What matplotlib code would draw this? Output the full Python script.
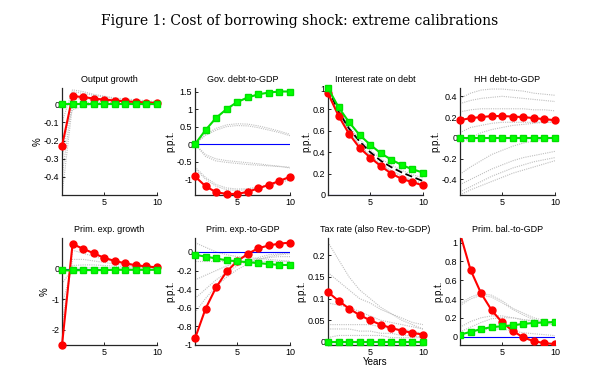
import numpy as np
import matplotlib.pyplot as plt

# horizon (years)
years = list(range(1, 11))

# panel titles / y labels
titles = ['Output growth', 'Gov. debt-to-GDP', 'Interest rate on debt', 'HH debt-to-GDP',
          'Prim. exp. growth', 'Prim. exp.-to-GDP', 'Tax rate (also Rev.-to-GDP)', 'Prim. bal.-to-GDP']
ylabels = ['%', 'p.p.t.', 'p.p.t.', 'p.p.t.', '%', 'p.p.t.', 'p.p.t.', 'p.p.t.']

# red calibration (circles)
red_output = [-0.23, 0.045, 0.04, 0.032, 0.026, 0.021, 0.016, 0.013, 0.01, 0.008]
red_govdebt = [-0.92, -1.2, -1.37, -1.42, -1.42, -1.36, -1.26, -1.16, -1.05, -0.93]
red_rate = [0.95, 0.74, 0.57, 0.44, 0.35, 0.27, 0.2, 0.15, 0.12, 0.09]
red_hhdebt = [0.17, 0.19, 0.2, 0.21, 0.21, 0.205, 0.2, 0.19, 0.18, 0.17]
red_expgr = [-2.5, 0.8, 0.65, 0.5, 0.35, 0.25, 0.17, 0.11, 0.07, 0.04]
red_expgdp = [-0.93, -0.61, -0.38, -0.21, -0.1, -0.02, 0.04, 0.07, 0.09, 0.1]
red_tax = [0.115, 0.095, 0.077, 0.062, 0.05, 0.04, 0.032, 0.026, 0.021, 0.017]
red_primbal = [1.1, 0.71, 0.46, 0.28, 0.15, 0.06, -0.01, -0.05, -0.07, -0.08]

# green calibration (squares)
green_output = [0.0] * 10
green_govdebt = [0.0, 0.4, 0.75, 1.0, 1.2, 1.33, 1.42, 1.47, 1.5, 1.5]
green_rate = [1.0, 0.82, 0.68, 0.56, 0.47, 0.39, 0.33, 0.28, 0.24, 0.21]
green_hhdebt = [0.0] * 10
green_expgr = [-0.06, -0.06, -0.05, -0.05, -0.05, -0.04, -0.04, -0.04, -0.04, -0.04]
green_expgdp = [-0.03, -0.05, -0.07, -0.09, -0.1, -0.11, -0.12, -0.13, -0.14, -0.14]
green_tax = [0.0] * 10
green_primbal = [0.02, 0.05, 0.08, 0.1, 0.11, 0.12, 0.135, 0.145, 0.15, 0.155]

# baseline (black dashed, interest rate only)
base_rate = [1.0, 0.78, 0.62, 0.5, 0.4, 0.32, 0.26, 0.21, 0.17, 0.13]

# gray dotted lines: other calibrations
gray_output = [
    [-0.5, 0.0, 0.01, 0.01, 0.01, 0.01, 0.01, 0.01, 0.01, 0.01],
    [-0.4, 0.03, 0.03, 0.025, 0.02, 0.02, 0.015, 0.012, 0.01, 0.01],
    [-0.3, 0.07, 0.06, 0.05, 0.04, 0.03, 0.025, 0.02, 0.015, 0.012],
    [-0.2, -0.03, -0.01, 0.0, 0.0, 0.0, 0.0, 0.0, 0.0, 0.0],
    [-0.1, 0.08, 0.07, 0.055, 0.045, 0.035, 0.03, 0.025, 0.02, 0.015],
]
gray_govdebt = [
    [0.0, 0.28, 0.45, 0.55, 0.58, 0.57, 0.52, 0.45, 0.37, 0.28],
    [0.0, 0.25, 0.4, 0.5, 0.53, 0.52, 0.47, 0.4, 0.33, 0.24],
    [0.0, -0.35, -0.48, -0.52, -0.55, -0.58, -0.6, -0.62, -0.64, -0.66],
    [0.0, -0.3, -0.42, -0.47, -0.5, -0.53, -0.56, -0.6, -0.63, -0.68],
    [-0.7, -1.0, -1.2, -1.3, -1.32, -1.3, -1.25, -1.18, -1.1, -1.02],
    [-0.65, -0.95, -1.15, -1.25, -1.28, -1.27, -1.22, -1.15, -1.07, -0.98],
]
gray_rate = [
    [0.98, 0.77, 0.6, 0.47, 0.37, 0.29, 0.23, 0.18, 0.14, 0.11],
    [0.99, 0.8, 0.64, 0.52, 0.42, 0.34, 0.28, 0.23, 0.19, 0.16],
    [0.97, 0.75, 0.59, 0.46, 0.36, 0.28, 0.22, 0.17, 0.13, 0.1],
]
gray_hhdebt = [
    [0.38, 0.43, 0.46, 0.47, 0.47, 0.46, 0.45, 0.43, 0.42, 0.41],
    [0.33, 0.36, 0.38, 0.39, 0.4, 0.39, 0.38, 0.37, 0.36, 0.35],
    [0.25, 0.27, 0.28, 0.28, 0.28, 0.28, 0.28, 0.27, 0.27, 0.26],
    [0.05, 0.1, 0.12, 0.14, 0.15, 0.15, 0.15, 0.15, 0.15, 0.15],
    [-0.05, 0.0, 0.05, 0.08, 0.1, 0.12, 0.13, 0.14, 0.15, 0.15],
    [-0.35, -0.28, -0.22, -0.16, -0.12, -0.08, -0.05, -0.03, -0.01, 0.0],
    [-0.45, -0.4, -0.35, -0.3, -0.26, -0.22, -0.19, -0.17, -0.15, -0.13],
    [-0.52, -0.47, -0.42, -0.37, -0.33, -0.29, -0.26, -0.23, -0.21, -0.19],
    [-0.55, -0.5, -0.46, -0.42, -0.38, -0.34, -0.31, -0.28, -0.25, -0.22],
]
gray_expgr = [
    [-2.3, 0.6, 0.5, 0.4, 0.3, 0.22, 0.15, 0.1, 0.06, 0.03],
    [-1.8, 0.3, 0.3, 0.25, 0.2, 0.15, 0.1, 0.07, 0.05, 0.03],
    [-1.2, 0.1, 0.12, 0.12, 0.1, 0.08, 0.06, 0.05, 0.04, 0.03],
    [-0.5, 0.0, 0.02, 0.03, 0.03, 0.03, 0.02, 0.02, 0.02, 0.02],
]
gray_expgdp = [
    [0.1, 0.05, 0.0, -0.03, -0.05, -0.06, -0.07, -0.08, -0.09, -0.1],
    [-0.1, -0.1, -0.1, -0.1, -0.1, -0.1, -0.1, -0.1, -0.1, -0.1],
    [-0.3, -0.25, -0.2, -0.15, -0.12, -0.1, -0.08, -0.06, -0.05, -0.05],
    [-0.5, -0.4, -0.3, -0.22, -0.15, -0.1, -0.06, -0.03, -0.02, -0.01],
    [-0.65, -0.5, -0.37, -0.27, -0.19, -0.13, -0.08, -0.05, -0.03, -0.02],
]
gray_tax = [
    [0.23, 0.19, 0.15, 0.12, 0.1, 0.08, 0.065, 0.05, 0.04, 0.03],
    [0.16, 0.14, 0.12, 0.1, 0.09, 0.075, 0.065, 0.055, 0.045, 0.04],
    [0.09, 0.085, 0.08, 0.07, 0.06, 0.05, 0.045, 0.04, 0.035, 0.03],
    [0.04, 0.04, 0.04, 0.04, 0.04, 0.035, 0.03, 0.03, 0.025, 0.02],
    [0.03, 0.03, 0.03, 0.025, 0.025, 0.02, 0.02, 0.015, 0.015, 0.01],
    [0.01, 0.015, 0.015, 0.015, 0.015, 0.015, 0.01, 0.01, 0.01, 0.01],
]
gray_primbal = [
    [0.35, 0.42, 0.46, 0.44, 0.38, 0.3, 0.25, 0.2, 0.17, 0.15],
    [0.33, 0.4, 0.44, 0.42, 0.36, 0.29, 0.23, 0.18, 0.15, 0.12],
    [0.1, 0.16, 0.2, 0.22, 0.22, 0.2, 0.18, 0.17, 0.16, 0.15],
    [0.05, 0.1, 0.15, 0.19, 0.2, 0.2, 0.18, 0.16, 0.14, 0.13],
    [0.02, 0.05, 0.07, 0.08, 0.08, 0.06, 0.04, 0.03, 0.02, 0.01],
]

reds = [red_output, red_govdebt, red_rate, red_hhdebt, red_expgr, red_expgdp, red_tax, red_primbal]
greens = [green_output, green_govdebt, green_rate, green_hhdebt, green_expgr, green_expgdp, green_tax, green_primbal]
grays = [gray_output, gray_govdebt, gray_rate, gray_hhdebt, gray_expgr, gray_expgdp, gray_tax, gray_primbal]

ylims = [(-0.5, 0.09), (-1.45, 1.6), (0, 1.0), (-0.55, 0.48),
         (-2.5, 1.0), (-1.0, 0.15), (-0.007, 0.24), (-0.09, 1.05)]
yticks = [[-0.4, -0.3, -0.2, -0.1, 0], [-1, -0.5, 0, 0.5, 1, 1.5], [0, 0.2, 0.4, 0.6, 0.8, 1],
          [-0.4, -0.2, 0, 0.2, 0.4], [-2, -1, 0], [-1, -0.8, -0.6, -0.4, -0.2, 0],
          [0, 0.05, 0.1, 0.15, 0.2], [0, 0.2, 0.4, 0.6, 0.8, 1]]

plt.rcParams['font.family'] = ['Liberation Sans', 'DejaVu Sans']

fig = plt.figure(figsize=(6, 3.81), dpi=100)
fig.text(0.5, 0.945, 'Figure 1: Cost of borrowing shock: extreme calibrations',
         ha='center', va='center', fontsize=10, family='DejaVu Serif')

lefts = [62, 195, 328, 460]
tops = [88, 238]
w_px, h_px = 95, 107

def fmt(v):
    s = ('%g' % v)
    return s

for i in range(8):
    row, col = divmod(i, 4)
    l = lefts[col] / 600
    b = 1 - (tops[row] + h_px) / 381
    ax = fig.add_axes([l, b, w_px / 600, h_px / 381])
    x = np.array(years)

    for g in grays[i]:
        ax.plot(x, g, color='0.75', lw=0.8, ls=(0, (1, 1)), zorder=1)
    ax.axhline(0, color='blue', lw=0.8, zorder=2)
    if i == 2:
        ax.plot(x, base_rate, color='black', lw=1.3, ls=(0, (4, 2)), zorder=4)

    clip = (i != 7)
    ax.plot(x, reds[i], color='red', lw=1.5, marker='o', ms=5, mec='red', mfc='red',
            zorder=5, clip_on=not clip)
    ax.plot(x, greens[i], color='#00e000', lw=1.5, marker='s', ms=4.5, mec='#00e000',
            mfc='#00ff00', zorder=6, clip_on=not clip)

    ax.set_xlim(1, 10)
    ax.set_ylim(*ylims[i])
    ax.set_xticks([5, 10])
    ax.set_yticks(yticks[i])
    ax.set_yticklabels([fmt(v) for v in yticks[i]])
    ax.tick_params(labelsize=6.5, direction='in', length=2, width=0.6, pad=2)
    for s in ['top', 'right']:
        ax.spines[s].set_visible(False)
    for s in ['left', 'bottom']:
        ax.spines[s].set_color('0.15')
        ax.spines[s].set_linestyle((0, (2, 1)))
        ax.spines[s].set_linewidth(0.9)
    ax.set_title(titles[i], fontsize=6.5, pad=4)
    ax.set_ylabel(ylabels[i], fontsize=7, labelpad=1)
    ax.patch.set_alpha(0)
    if i == 6:
        ax.set_xlabel('Years', fontsize=7, labelpad=0)

fig.savefig('out.png', dpi=100)
